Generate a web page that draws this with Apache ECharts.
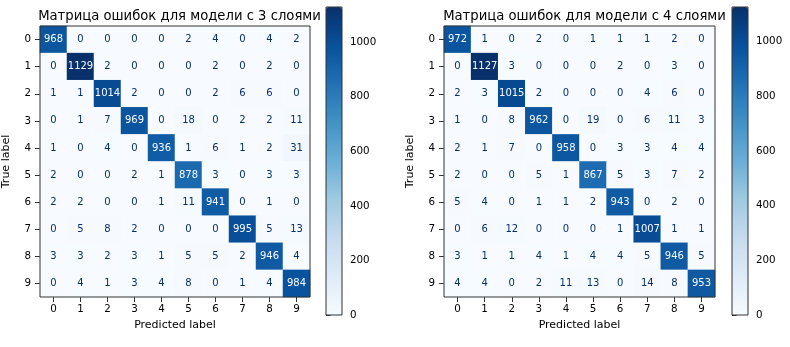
<!DOCTYPE html>
<html>
<head>
<meta charset="utf-8">
<script src="https://cdn.jsdelivr.net/npm/echarts@6/dist/echarts.min.js"></script>
<style>html,body{margin:0;padding:0;background:#fff;}#c{width:790px;height:347px;}</style>
</head>
<body>
<div id="c"></div>
<script>
const labels = ['0','1','2','3','4','5','6','7','8','9'];
const titleLeft = 'Матрица ошибок для модели с 3 слоями';
const titleRight = 'Матрица ошибок для модели с 4 слоями';
const matrix3 = [
  [968,0,0,0,0,2,4,0,4,2],
  [0,1129,2,0,0,0,2,0,2,0],
  [1,1,1014,2,0,0,2,6,6,0],
  [0,1,7,969,0,18,0,2,2,11],
  [1,0,4,0,936,1,6,1,2,31],
  [2,0,0,2,1,878,3,0,3,3],
  [2,2,0,0,1,11,941,0,1,0],
  [0,5,8,2,0,0,0,995,5,13],
  [3,3,2,3,1,5,5,2,946,4],
  [0,4,1,3,4,8,0,1,4,984]
];
const matrix4 = [
  [972,1,0,2,0,1,1,1,2,0],
  [0,1127,3,0,0,0,2,0,3,0],
  [2,3,1015,2,0,0,0,4,6,0],
  [1,0,8,962,0,19,0,6,11,3],
  [2,1,7,0,958,0,3,3,4,4],
  [2,0,0,5,1,867,5,3,7,2],
  [5,4,0,1,1,2,943,0,2,0],
  [0,6,12,0,0,0,1,1007,1,1],
  [3,1,1,4,1,4,4,5,946,5],
  [4,4,0,2,11,13,0,14,8,953]
];
const colorbarTicks = [0,200,400,600,800,1000];

const FONT = 'DejaVu Sans';
const blues = ['#f7fbff','#deebf7','#c6dbef','#9ecae1','#6baed6','#4292c6','#2171b5','#08519c','#08306b'];

function toData(m){
  let mx = -Infinity, mn = Infinity;
  m.forEach(r=>r.forEach(v=>{mx=Math.max(mx,v);mn=Math.min(mn,v);}));
  const thr = (mx+mn)/2;
  const out=[];
  m.forEach((row,i)=>row.forEach((v,j)=>{
    out.push({value:[j,i,v], label:{color: v>thr ? '#f7fbff' : '#08306b'}});
  }));
  return {data:out, max:mx, min:mn};
}
const d3 = toData(matrix3), d4 = toData(matrix4);

const panels = [
  {gx:39, cbx:326, d:d3, title:titleLeft},
  {gx:444, cbx:732, d:d4, title:titleRight}
];
const GT=26, GS=271, CBT=7, CBH=308, CBW=16;

const option = {
  backgroundColor:'#fff',
  animation:false,
  title:[], grid:[], xAxis:[], yAxis:[], series:[], visualMap:[]
};
panels.forEach((p,k)=>{
  option.title.push({text:p.title, left:p.gx+GS/2, top:5, textAlign:'center',
    textStyle:{fontFamily:FONT,fontSize:13.2,fontWeight:'normal',color:'#000'}});
  option.grid.push({left:p.gx, top:GT, width:GS, height:GS, show:true, borderColor:'#333', borderWidth:1, backgroundColor:'transparent', z:5});
  option.grid.push({left:p.cbx, top:CBT, width:CBW, height:CBH, show:true, borderColor:'#333', borderWidth:1, backgroundColor:'transparent', z:10});
  const gi = k*2, ci = k*2+1;
  option.xAxis.push({type:'category', data:labels, gridIndex:gi, position:'bottom',
    axisLine:{show:false}, axisTick:{show:true, alignWithLabel:true, length:5, lineStyle:{color:'#333'}},
    axisLabel:{fontFamily:FONT,fontSize:10.3,color:'#000',margin:7},
    splitLine:{show:false},
    name:'Predicted label', nameLocation:'middle', nameGap:23,
    nameTextStyle:{fontFamily:FONT,fontSize:11,color:'#000'}});
  option.yAxis.push({type:'category', data:labels, gridIndex:gi, inverse:true,
    axisLine:{show:false}, axisTick:{show:true, alignWithLabel:true, length:5, lineStyle:{color:'#333'}},
    axisLabel:{fontFamily:FONT,fontSize:10.3,color:'#000',margin:9},
    splitLine:{show:false},
    name:'True label', nameLocation:'middle', nameGap:28,
    nameTextStyle:{fontFamily:FONT,fontSize:11,color:'#000'}});
  option.xAxis.push({type:'value', gridIndex:ci, show:false});
  option.yAxis.push({type:'value', gridIndex:ci, position:'right', min:0, max:p.d.max, interval:200,
    axisLine:{show:false}, axisTick:{show:true, length:4.5, lineStyle:{color:'#333'}},
    axisLabel:{fontFamily:FONT,fontSize:10.3,color:'#000',margin:8, showMaxLabel:false,
      formatter:v=> colorbarTicks.indexOf(v)>=0 ? String(v) : ''},
    splitLine:{show:false}});
  option.series.push({type:'heatmap', xAxisIndex:gi, yAxisIndex:gi, data:p.d.data,
    label:{show:true, fontFamily:FONT, fontSize:10},
    itemStyle:{borderWidth:0},
    emphasis:{disabled:true}});
  option.visualMap.push({type:'continuous', seriesIndex:k, min:p.d.min, max:p.d.max, dimension:2,
    calculable:false, hoverLink:false, orient:'vertical', left:p.cbx, top:CBT, padding:0,
    itemWidth:CBW, itemHeight:CBH, text:null, showLabel:false,
    inRange:{color:blues}});
});

const chart = echarts.init(document.getElementById('c'), null, {renderer:'canvas'});
chart.setOption(option);
</script>
</body>
</html>
